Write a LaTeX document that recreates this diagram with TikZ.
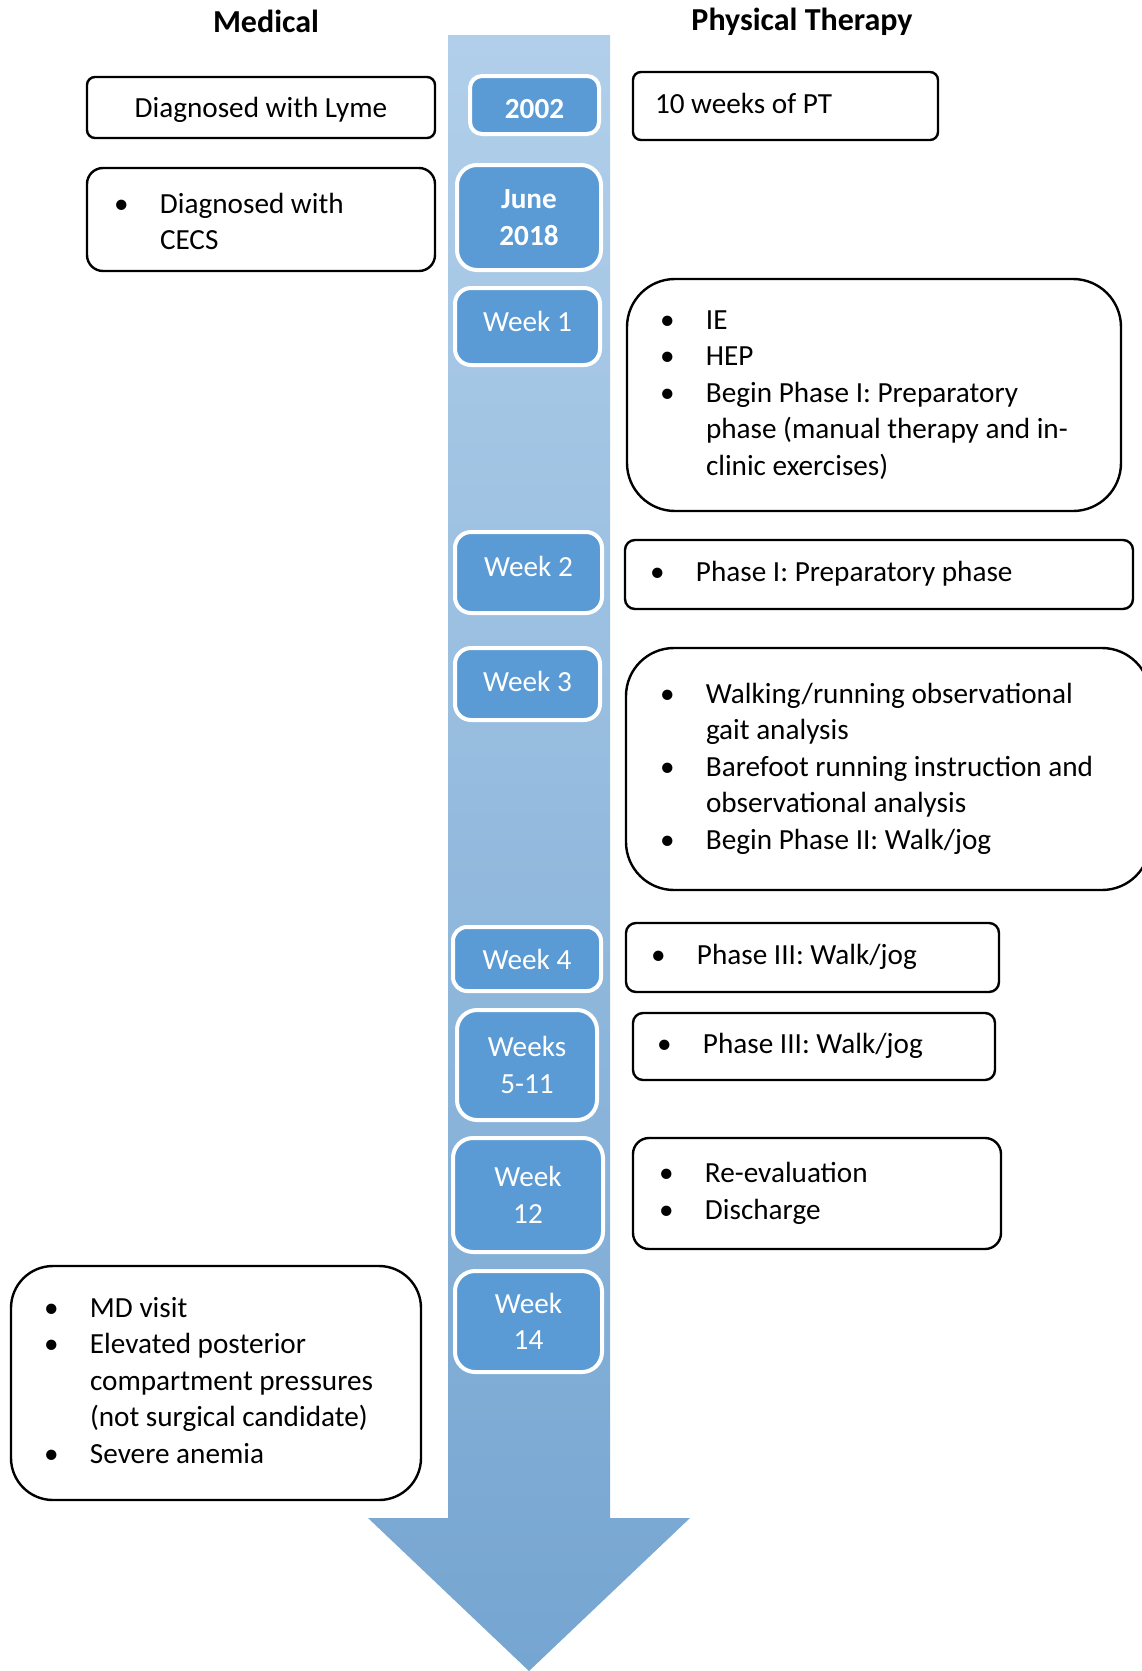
\documentclass[tikz,border=0pt]{standalone}
\usepackage{fontspec}
\setmainfont{Carlito}
\usepackage{tikz}
\usetikzlibrary{positioning}
\definecolor{datefill}{HTML}{5B9BD5}
\definecolor{spinetop}{HTML}{B1CFEA}
\definecolor{spinebot}{HTML}{75A5D1}
\newcommand{\bpt}{\textbullet}
\newcommand{\blist}[1]{\begin{tabular}[t]{@{}p{23pt}@{}l@{}}#1\end{tabular}}

\begin{document}
\begin{tikzpicture}
    [x=0.5pt,y=-0.5pt,
    every node/.style={font=\fontsize{14.6}{18.3}\selectfont},
    hd/.style={font=\fontsize{16}{19}\selectfont\bfseries},
    datebox/.style={fill=datefill,draw=white,line width=2pt,text=white,align=center,inner sep=0pt},
    medbox/.style={draw=black,line width=1.2pt,fill=white,inner sep=0pt,align=flush left},
    ptbox/.style={medbox}]
  \useasboundingbox (0,0) rectangle (1141,1671);
  % time line
  \shade[top color=spinetop,bottom color=spinebot]
    (448,35) -- (610,35) -- (610,1518) -- (690,1518) -- (529,1671)
    -- (368,1518) -- (448,1518) -- cycle;
  % headers
  \node (medhd) [hd] at (266,21) {Medical};
  \node (pthd) [hd] at (802,22) {Physical Therapy};
  % dates
  \node (d2002) [datebox,rounded corners=6pt,minimum width=64.5pt,minimum height=29pt,text height=13.5pt,text depth=0pt] at (534.5,105) {\bfseries 2002};
  \node (djune) [datebox,rounded corners=10pt,minimum width=72pt,minimum height=52.5pt] at (529,217.5) {\bfseries June\\ \bfseries 2018};
  \node (dw1) [datebox,rounded corners=8pt,minimum width=72.5pt,minimum height=38.5pt,text height=10.4pt,text depth=5.4pt] at (527.5,326.5) {Week 1};
  \node (dw2) [datebox,rounded corners=8pt,minimum width=73.5pt,minimum height=40.5pt,text height=10.4pt,text depth=6.4pt] at (528.5,572.5) {Week 2};
  \node (dw3) [datebox,rounded corners=8pt,minimum width=72.5pt,minimum height=36pt,text height=10.4pt,text depth=3.2pt] at (527.5,684) {Week 3};
  \node (dw4) [datebox,rounded corners=7pt,minimum width=74pt,minimum height=32pt] at (527,959) {Week 4};
  \node (dw511) [datebox,rounded corners=10pt,minimum width=70pt,minimum height=55pt] at (527,1065) {Weeks\\5-11};
  \node (dw12) [datebox,rounded corners=10pt,minimum width=75pt,minimum height=57pt] at (528,1195) {Week\\12};
  \node (dw14) [datebox,rounded corners=10pt,minimum width=73.5pt,minimum height=50.5pt] at (528.5,1321.5) {Week\\14};
  % medical
  \node (lyme) [medbox,rounded corners=4pt,minimum width=174pt,minimum height=30.5pt,align=center,text height=13.4pt,text depth=3pt] at (261,107.5) {Diagnosed with Lyme};
  \node (cecs) [medbox,rounded corners=8pt,minimum width=174pt,minimum height=51.5pt,inner xsep=13.5pt,text width=147pt,text height=17.6pt] at (261,219.5)
    {\blist{\bpt & Diagnosed with\\ & CECS}};
  \node (mdvisit) [medbox,rounded corners=21pt,minimum width=205pt,minimum height=117pt,inner xsep=16.5pt,text width=172pt] at (216,1383)
    {\blist{\bpt & MD visit\\ \bpt & Elevated posterior\\ & compartment pressures\\ & (not surgical candidate)\\ \bpt & Severe anemia}};
  % physical therapy
  \node (pt0) [ptbox,rounded corners=4pt,minimum width=152.5pt,minimum height=34pt,inner xsep=11pt,text width=130.5pt,text height=10.4pt,text depth=3pt] at (785.5,106) {10 weeks of PT};
  \node (pt1) [ptbox,rounded corners=24pt,minimum width=247pt,minimum height=116pt,inner xsep=16.5pt,text width=214pt] at (874,395)
    {\blist{\bpt & IE\\ \bpt & HEP\\ \bpt & Begin Phase I: Preparatory\\ & phase (manual therapy and in-\\ & clinic exercises)}};
  \node (pt2) [ptbox,rounded corners=5pt,minimum width=254pt,minimum height=34.5pt,inner xsep=12.5pt,text width=229pt] at (879,574.5)
    {\blist{\bpt & Phase I: Preparatory phase}};
  \node (pt3) [ptbox,rounded corners=24pt,minimum width=262pt,minimum height=121pt,inner xsep=17pt,text width=228pt] at (888,769)
    {\blist{\bpt & Walking/running observational\\ & gait analysis\\ \bpt & Barefoot running instruction and\\ & observational analysis\\ \bpt & Begin Phase II: Walk/jog}};
  \node (pt4) [ptbox,rounded corners=5pt,minimum width=186.5pt,minimum height=34.5pt,inner xsep=12.5pt,text width=161.5pt] at (812.5,957.5)
    {\blist{\bpt & Phase III: Walk/jog}};
  \node (pt5) [ptbox,rounded corners=5pt,minimum width=181pt,minimum height=33.5pt,inner xsep=12pt,text width=157pt] at (814,1046.5)
    {\blist{\bpt & Phase III: Walk/jog}};
  \node (pt6) [ptbox,rounded corners=8pt,minimum width=184pt,minimum height=55.5pt,inner xsep=13pt,text width=158pt] at (817,1193.5)
    {\blist{\bpt & Re-evaluation\\ \bpt & Discharge}};
\end{tikzpicture}
\end{document}
